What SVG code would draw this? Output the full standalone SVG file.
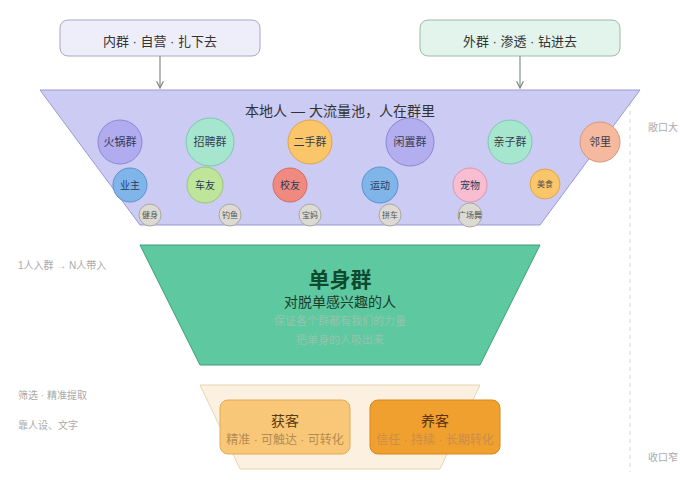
<svg xmlns="http://www.w3.org/2000/svg" width="680" height="480" viewBox="0 0 680 480">
<defs>
<marker id="arr" viewBox="0 0 10 10" refX="9" refY="5" markerWidth="7" markerHeight="7" orient="auto">
<path d="M1,1 L9,5 L1,9" fill="none" stroke="#888" stroke-width="1.5"/>
</marker>
<style>
text{font-family:"Liberation Sans","Noto Sans CJK SC",sans-serif;text-anchor:middle}
.side{font-size:10px;fill:#aaa;text-anchor:start}
.c1{font-size:11px;fill:#3a3a4a}
.c2{font-size:10px;fill:#2a3a5a}
.c3{font-size:8px;fill:#555}
</style>
</defs>
<rect width="680" height="480" fill="#fff"/>
<line x1="630" y1="95" x2="630" y2="472" stroke="#ddd" stroke-width="1.2" stroke-dasharray="4,4"/>
<text class="side" x="648" y="131">敞口大</text>
<text class="side" x="648" y="461">收口窄</text>
<text class="side" x="18" y="269">1人入群 → N人带入</text>
<text class="side" x="18" y="399">筛选 · 精准提取</text>
<text class="side" x="18" y="429">靠人设、文字</text>

<g id="box-inner">
<rect x="60" y="20" width="200" height="36" rx="8" fill="#eeeefb" stroke="#a8a8c0"/>
<text x="160" y="46" font-size="13" fill="#333">内群 · 自营 · 扎下去</text>
</g>
<g id="box-outer">
<rect x="420" y="20" width="200" height="36" rx="8" fill="#e2f4ec" stroke="#9cbcae"/>
<text x="520" y="46" font-size="13" fill="#333">外群 · 渗透 · 钻进去</text>
</g>

<g id="funnel-top">
<polygon points="40,90 640,90 540,225 140,225" fill="#cccbf4" stroke="#9b99d2"/>
<text x="340" y="116" font-size="14" fill="#333">本地人 — 大流量池，人在群里</text>
<circle cx="120" cy="142" r="22" fill="#b1abf0" stroke="#8d86d2"/><text class="c1" x="120" y="146">火锅群</text>
<circle cx="210" cy="142" r="24" fill="#a6e6cf" stroke="#7cc9ad"/><text class="c1" x="210" y="146">招聘群</text>
<circle cx="310" cy="142" r="22" fill="#fbc56a" stroke="#e0a448"/><text class="c1" x="310" y="146">二手群</text>
<circle cx="410" cy="142" r="24" fill="#b3aef0" stroke="#8d86d2"/><text class="c1" x="410" y="146">闲置群</text>
<circle cx="510" cy="142" r="22" fill="#a6e6cf" stroke="#7cc9ad"/><text class="c1" x="510" y="146">亲子群</text>
<circle cx="600" cy="142" r="20" fill="#f5b9a0" stroke="#d8957c"/><text class="c1" x="600" y="146">邻里</text>

<circle cx="130" cy="185" r="17" fill="#80b5ea" stroke="#5a92cc"/><text class="c2" x="130" y="189">业主</text>
<circle cx="205" cy="185" r="18" fill="#bee59a" stroke="#96c872"/><text class="c2" x="205" y="189">车友</text>
<circle cx="290" cy="185" r="17" fill="#f08a80" stroke="#d06a60"/><text class="c2" x="290" y="189">校友</text>
<circle cx="380" cy="185" r="18" fill="#80b5ea" stroke="#5a92cc"/><text class="c2" x="380" y="189">运动</text>
<circle cx="470" cy="185" r="17" fill="#f8bdd0" stroke="#d896ac"/><text class="c2" x="470" y="189">宠物</text>
<circle cx="545" cy="184" r="15" fill="#fbc56a" stroke="#e0a448"/><text class="c3" x="545" y="187">美食</text>

<circle cx="150" cy="215" r="11" fill="#dcdad3" stroke="#aaa8a0"/><text class="c3" x="150" y="218">健身</text>
<circle cx="230" cy="215" r="11" fill="#dcdad3" stroke="#aaa8a0"/><text class="c3" x="230" y="218">钓鱼</text>
<circle cx="310" cy="215" r="11" fill="#dcdad3" stroke="#aaa8a0"/><text class="c3" x="310" y="218">宝妈</text>
<circle cx="390" cy="215" r="11" fill="#dcdad3" stroke="#aaa8a0"/><text class="c3" x="390" y="218">拼车</text>
<circle cx="470" cy="215" r="12" fill="#dcdad3" stroke="#aaa8a0"/><text class="c3" x="470" y="218">广场舞</text>
</g>

<g id="funnel-mid">
<polygon points="140,245 540,245 480,365 200,365" fill="#5ec8a1" stroke="#3f9c7a"/>
<text x="340" y="287" font-size="21" font-weight="bold" fill="#0e4a2e">单身群</text>
<text x="340" y="307" font-size="14" fill="#1b3b2b">对脱单感兴趣的人</text>
<text x="340" y="325" font-size="11" fill="#94c4ae">保证各个群都有我们的力量</text>
<text x="340" y="344" font-size="11" fill="#94c4ae">把单身的人吸出来</text>
</g>

<g id="funnel-bottom">
<polygon points="200,385 480,385 440,469 240,469" fill="#fcf0e0" stroke="#e8d4b4"/>
</g>
<g id="box-acquire">
<rect x="220" y="400" width="130" height="54" rx="8" fill="#f8c878" stroke="#e2aa58"/>
<text x="285" y="426" font-size="14" fill="#5a3a10">获客</text>
<text x="285" y="444" font-size="12" fill="#b58a52">精准 · 可触达 · 可转化</text>
</g>
<g id="box-nurture">
<rect x="370" y="400" width="130" height="54" rx="8" fill="#f0a02e" stroke="#d4881e"/>
<text x="435" y="426" font-size="14" fill="#5a3010">养客</text>
<text x="435" y="444" font-size="12" fill="#c98e4a">信任 · 持续 · 长期转化</text>
</g>

<g id="connectors">
<line x1="160" y1="56" x2="160" y2="88" stroke="#888" stroke-width="1.2" marker-end="url(#arr)"/>
<line x1="520" y1="56" x2="520" y2="88" stroke="#7a9a8a" stroke-width="1.2" marker-end="url(#arr)"/>
</g>
</svg>
